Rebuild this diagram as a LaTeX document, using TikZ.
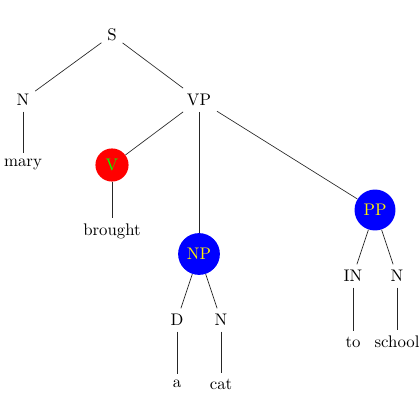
\documentclass[tikz,border=0pt]{standalone}
\begin{document}
\begin{tikzpicture}[x=0.5952pt,y=-0.5952pt,
  lbl/.style={},
  redc/.style={circle,fill=red,text=green},
  bluec/.style={circle,fill=blue,text=yellow},
  edge/.style={draw=black!85,line width=0.4pt}]
\useasboundingbox (0,0) rectangle (420,420);
\node[lbl] (S) at (112,35) {S};
\node[lbl] (N1) at (23,100) {N};
\node[lbl] (VP) at (199,100) {VP};
\node[lbl] (mary) at (23,164) {mary};
\node[redc] (V) at (112,165) {V};
\node[lbl] (brought) at (112,231) {brought};
\node[bluec] (NP) at (199,254) {NP};
\node[bluec] (PP) at (375,210) {PP};
\node[lbl] (D) at (177,320) {D};
\node[lbl] (N2) at (221,320) {N};
\node[lbl] (IN) at (353,276) {IN};
\node[lbl] (N3) at (397,276) {N};
\node[lbl] (a) at (177,384) {a};
\node[lbl] (cat) at (221,384) {cat};
\node[lbl] (to) at (353,342) {to};
\node[lbl] (school) at (397,342) {school};
\draw[edge] (S) -- (N1);
\draw[edge] (S) -- (VP);
\draw[edge] (N1) -- (mary);
\draw[edge] (VP) -- (V);
\draw[edge] (VP) -- (NP);
\draw[edge] (VP) -- (PP);
\draw[edge] (V) -- (brought);
\draw[edge] (NP) -- (D);
\draw[edge] (NP) -- (N2);
\draw[edge] (D) -- (a);
\draw[edge] (N2) -- (cat);
\draw[edge] (PP) -- (IN);
\draw[edge] (PP) -- (N3);
\draw[edge] (IN) -- (to);
\draw[edge] (N3) -- (school);
\end{tikzpicture}
\end{document}
